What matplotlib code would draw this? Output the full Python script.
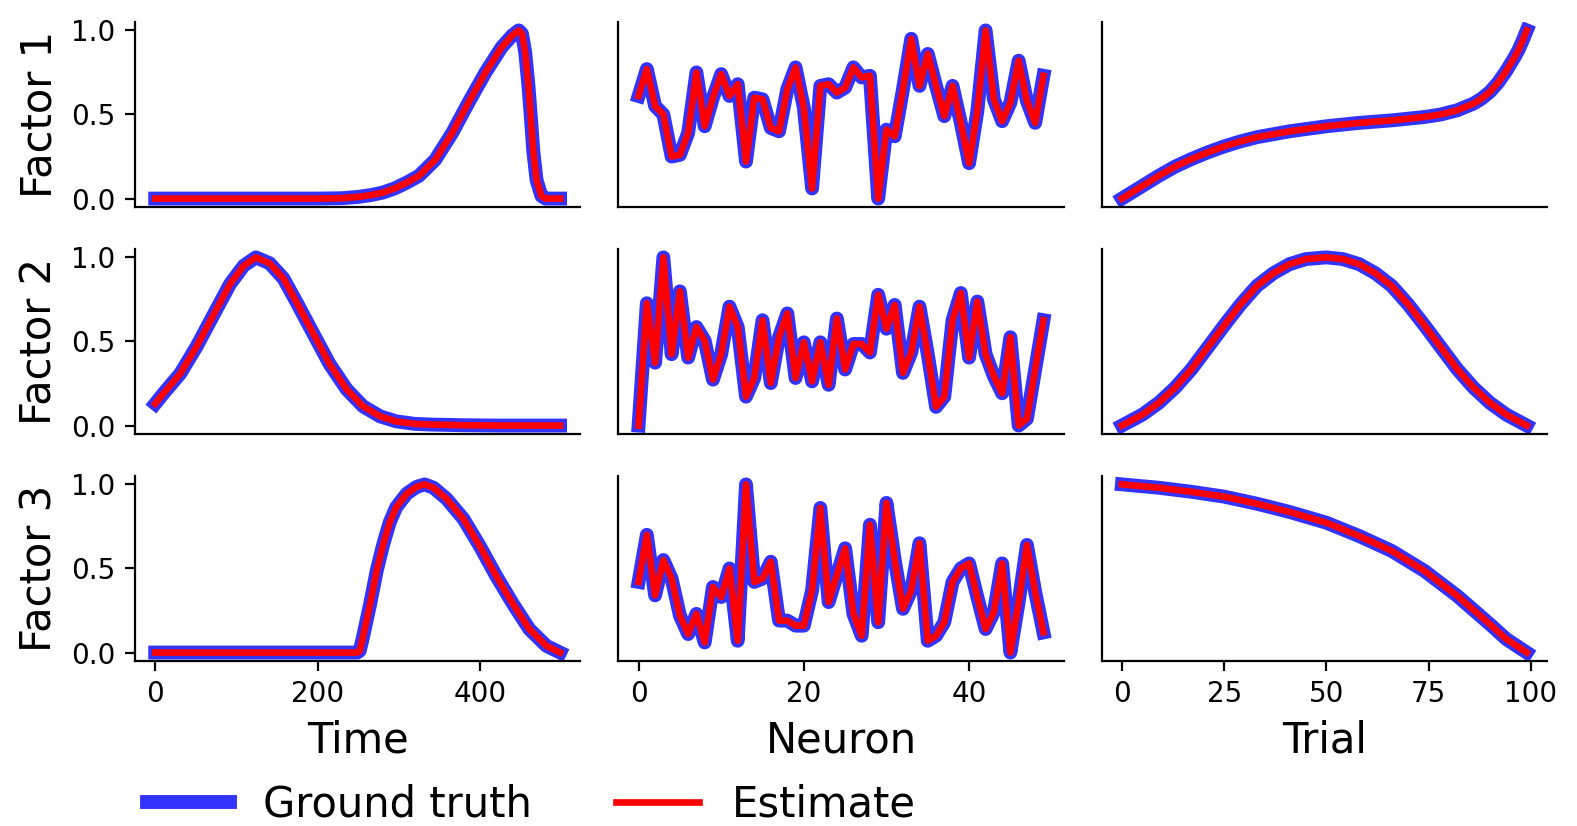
import numpy as np
import matplotlib
matplotlib.use("Agg")
import matplotlib.pyplot as plt

# Time factors
time_1 = [0, 100, 200, 230, 250, 265, 280, 295, 310, 325, 345, 366, 386, 407, 427,
          440, 448, 452, 456, 460, 463, 466, 470, 476, 481, 490, 499]
time_f1 = [0, 0, 0, 0.002, 0.01, 0.02, 0.035, 0.06, 0.095, 0.135, 0.23, 0.39, 0.57, 0.75, 0.90,
           0.97, 1.0, 0.98, 0.87, 0.67, 0.48, 0.28, 0.11, 0.015, 0.0, 0.0, 0.0]

time_2 = [0, 10, 31, 51, 72, 92, 109, 124, 141, 158, 174, 195, 215, 236, 256, 277, 297,
          320, 340, 380, 420, 499]
time_f2 = [0.13, 0.19, 0.31, 0.47, 0.66, 0.84, 0.95, 1.0, 0.965, 0.875, 0.735, 0.545, 0.365,
           0.215, 0.115, 0.055, 0.025, 0.01, 0.006, 0.002, 0.0, 0.0]

time_3 = [0, 100, 200, 249, 252, 256, 265, 273, 281, 289, 297, 310, 322, 332, 343, 359,
          380, 400, 420, 441, 461, 482, 499]
time_f3 = [0, 0, 0, 0, 0.01, 0.09, 0.29, 0.485, 0.64, 0.77, 0.86, 0.94, 0.98, 0.995, 0.975,
           0.91, 0.79, 0.63, 0.455, 0.287, 0.139, 0.04, 0.0]

# Neuron factors
neuron_f1 = [0.61, 0.77, 0.55, 0.50, 0.25, 0.26, 0.39, 0.75, 0.43, 0.60,
             0.74, 0.61, 0.68, 0.22, 0.60, 0.59, 0.42, 0.40, 0.65, 0.78,
             0.54, 0.06, 0.67, 0.68, 0.63, 0.66, 0.78, 0.72, 0.73, 0.0,
             0.41, 0.37, 0.65, 0.95, 0.67, 0.86, 0.67, 0.49, 0.67, 0.45,
             0.21, 0.52, 1.0, 0.59, 0.46, 0.57, 0.82, 0.58, 0.45, 0.73]
neuron_f2 = [0.0, 0.72, 0.37, 0.99, 0.42, 0.79, 0.40, 0.58, 0.50, 0.27,
             0.42, 0.70, 0.58, 0.17, 0.28, 0.62, 0.25, 0.52, 0.66, 0.28,
             0.49, 0.26, 0.49, 0.24, 0.63, 0.33, 0.48, 0.48, 0.43, 0.77,
             0.57, 0.71, 0.31, 0.43, 0.70, 0.42, 0.11, 0.17, 0.62, 0.78,
             0.40, 0.73, 0.42, 0.29, 0.19, 0.52, 0.0, 0.04, 0.33, 0.62]
neuron_f3 = [0.42, 0.70, 0.34, 0.55, 0.44, 0.22, 0.11, 0.23, 0.06, 0.39,
             0.33, 0.50, 0.07, 1.0, 0.42, 0.44, 0.54, 0.19, 0.19, 0.16,
             0.16, 0.37, 0.86, 0.30, 0.46, 0.62, 0.23, 0.10, 0.76, 0.18,
             0.89, 0.55, 0.26, 0.37, 0.65, 0.07, 0.10, 0.18, 0.42, 0.50,
             0.53, 0.33, 0.14, 0.24, 0.53, 0.0, 0.30, 0.64, 0.36, 0.12]

# Trial factors
trial_1 = [0, 5, 9, 13, 17, 21, 25, 29, 33, 41, 50, 58, 66, 74, 78, 82, 86, 88, 90, 92,
           94, 96, 97, 98, 99]
trial_f1 = [0, 0.075, 0.135, 0.19, 0.235, 0.275, 0.31, 0.34, 0.365, 0.40, 0.43, 0.45, 0.465,
            0.485, 0.50, 0.525, 0.565, 0.595, 0.635, 0.69, 0.76, 0.84, 0.885, 0.94, 1.0]

trial_2 = [0, 5, 9, 13, 17, 21, 25, 29, 33, 37, 41, 45, 50, 54, 58, 62, 66, 70, 74, 78,
           82, 86, 90, 94, 99]
trial_f2 = [0.0, 0.065, 0.135, 0.225, 0.335, 0.465, 0.595, 0.72, 0.83, 0.905, 0.96, 0.99,
            1.0, 0.99, 0.96, 0.905, 0.83, 0.72, 0.595, 0.465, 0.335, 0.225, 0.135, 0.065, 0.0]

trial_3 = [0, 9, 17, 25, 33, 41, 50, 58, 66, 74, 82, 90, 94, 99]
trial_f3 = [1.0, 0.98, 0.956, 0.927, 0.885, 0.836, 0.772, 0.693, 0.604, 0.485, 0.337,
            0.168, 0.08, 0.0]

neurons = np.arange(len(neuron_f1))

rows = [
    [(time_1, time_f1), (neurons, neuron_f1), (trial_1, trial_f1)],
    [(time_2, time_f2), (neurons, neuron_f2), (trial_2, trial_f2)],
    [(time_3, time_f3), (neurons, neuron_f3), (trial_3, trial_f3)],
]
col_labels = ["Time", "Neuron", "Trial"]

fig, axes = plt.subplots(3, 3, figsize=(7.885, 4.13), dpi=200)
fig.subplots_adjust(left=0.0856, right=0.981, top=0.9734, bottom=0.1998,
                    wspace=0.0853, hspace=0.227)

for i in range(3):
    for j in range(3):
        ax = axes[i, j]
        x, y = rows[i][j]
        l_true, = ax.plot(x, y, color='b', alpha=0.8, lw=5)
        l_est, = ax.plot(x, y, color='r', lw=2.4)
        ax.spines['top'].set_visible(False)
        ax.spines['right'].set_visible(False)
        if j > 0:
            ax.set_yticks([])
        else:
            ax.set_ylabel(f"Factor {i+1}", fontsize=15)
            ax.set_yticks([0.0, 0.5, 1.0])
        if i < 2:
            ax.set_xticks([])
        else:
            ax.set_xlabel(col_labels[j], fontsize=15)
    axes[i, 0].set_xlim(-24.95, 523.95)

axes[2, 2].set_xticks([0, 25, 50, 75, 100])

fig.legend([l_true, l_est], ["Ground truth", "Estimate"], loc='center',
           bbox_to_anchor=(0.337, 0.026), ncol=2, frameon=False, fontsize=15)

fig.savefig("out.png", dpi=200)
